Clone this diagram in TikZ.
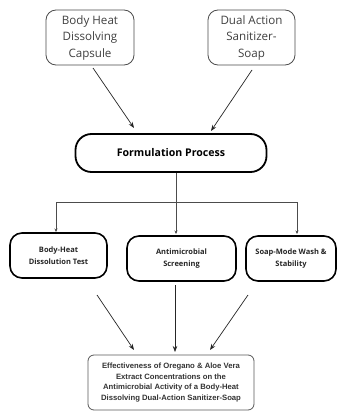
\documentclass[tikz,border=0pt]{standalone}
\usepackage{fontspec}
\setmainfont{Open Sans}
\newfontfamily\arialfont{Liberation Sans}
\usetikzlibrary{arrows.meta}
\begin{document}
\begin{tikzpicture}[x=1pt,y=-1pt,
  topbox/.style={draw=black!70,line width=0.8pt,rounded corners=10pt,align=center,inner sep=0pt,
    font=\fontsize{11.6}{16.5}\selectfont,text=black!75},
  fpbox/.style={draw=black,line width=1.8pt,rounded corners=16pt,align=center,inner sep=0pt,
    font=\fontsize{10.6}{12}\selectfont\bfseries},
  midbox/.style={draw=black,line width=1.6pt,rounded corners=12pt,align=center,inner sep=0pt,
    font=\fontsize{7.5}{11.5}\selectfont\bfseries,text=black!85},
  endbox/.style={draw=black!65,line width=0.8pt,rounded corners=6pt,align=center,inner sep=0pt,
    font=\arialfont\fontsize{7.7}{10.8}\selectfont\bfseries,text=black!80},
  arr/.style={draw=black!85,line width=0.7pt,-{Stealth[length=6pt,width=4.5pt]}},
  tarr/.style={draw=black!70,line width=0.5pt,-{Stealth[length=3.5pt,width=3pt]}},
  tline/.style={draw=black!70,line width=0.5pt}]
\useasboundingbox[fill=white] (0,0) rectangle (338,412);

\node[topbox,minimum width=88pt,minimum height=55pt] (c1) at (90,37.5) {Body Heat\\Dissolving\\Capsule};
\node[topbox,minimum width=87pt,minimum height=55pt] (c2) at (251.5,37.5) {Dual Action\\Sanitizer-\\Soap};

\node[fpbox,minimum width=191pt,minimum height=38pt] (fp) at (171,153) {Formulation Process};

\node[midbox,minimum width=97pt,minimum height=45pt] (b1) at (58.5,255.5) {Body-Heat\\Dissolution Test};
\node[midbox,minimum width=109pt,minimum height=45pt] (b2) at (181.5,258.5) {Antimicrobial\\Screening};
\node[midbox,minimum width=90pt,minimum height=45pt] (b3) at (291,258.5) {Soap-Mode Wash \&\\Stability};

\node[endbox,minimum width=166pt,minimum height=55pt] (fin) at (171,382.5) {Effectiveness of Oregano \& Aloe Vera\\Extract Concentrations on the\\Antimicrobial Activity of a Body-Heat\\Dissolving Dual-Action Sanitizer-Soap};

% top arrows
\coordinate (s1) at (93,68);  \coordinate (e1) at (134,128);
\coordinate (s2) at (252,70); \coordinate (e2) at (211,131);
\draw[arr] (s1) -- (e1);
\draw[arr] (s2) -- (e2);

% tree
\coordinate (sp) at (176,202);
\coordinate (l1) at (56,202); \coordinate (l3) at (297,202);
\coordinate (d1) at (56,232); \coordinate (d2) at (176,234); \coordinate (d3) at (297,234);
\draw[tline] (fp.south -| sp) -- (sp);
\draw[tline] (l1) -- (l3);
\draw[tarr] (l1) -- (d1);
\draw[tarr] (sp) -- (d2);
\draw[tarr] (l3) -- (d3);

% bottom arrows
\coordinate (s4) at (97,295);  \coordinate (e4) at (134,350);
\coordinate (s5) at (175,285); \coordinate (e5) at (175,352);
\coordinate (s6) at (248,295); \coordinate (e6) at (210,350);
\draw[arr] (s4) -- (e4);
\draw[arr] (s5) -- (e5);
\draw[arr] (s6) -- (e6);
\end{tikzpicture}
\end{document}
